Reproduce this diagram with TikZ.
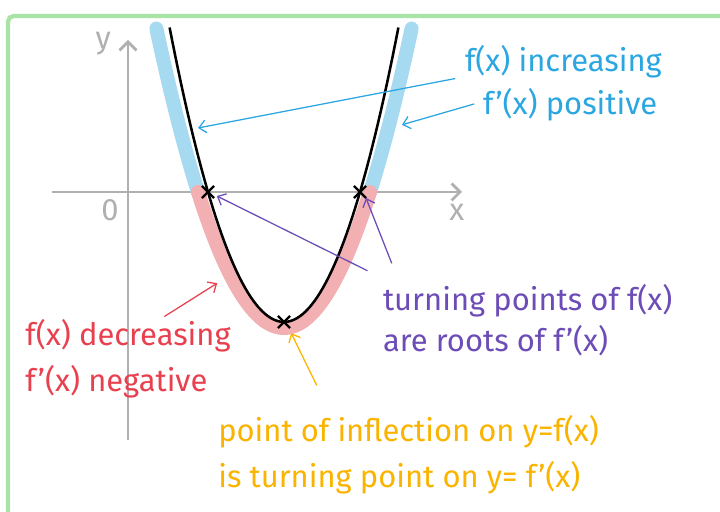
\documentclass[tikz,border=0pt]{standalone}
\usepackage{fontspec}
\setmainfont{Fira Sans}
\usetikzlibrary{arrows.meta, shapes.misc}

\definecolor{framegreen}{HTML}{A8E4A6}
\definecolor{axisgray}{HTML}{B0B0B0}
\definecolor{bandblue}{HTML}{A6DAF0}
\definecolor{bandpink}{HTML}{F2B0B2}
\definecolor{incblue}{HTML}{2BA6E1}
\definecolor{decred}{HTML}{E8404E}
\definecolor{tpurple}{HTML}{6C4CB6}
\definecolor{inforange}{HTML}{FAB400}

\begin{document}
\begin{tikzpicture}[
    lbl/.style={font=\fontsize{22}{26}\selectfont, anchor=west, inner sep=0pt},
    ptr/.style={-{Straight Barb[length=5pt, width=9pt]}, line width=0.9pt, shorten <=2pt},
    crossmark/.style={cross out, draw=black, line width=1.6pt, minimum size=7pt, inner sep=0pt}
]
    \useasboundingbox (-3.2, -8.0) rectangle (14.8, 4.8);

    % frame
    \draw[framegreen, line width=3pt, rounded corners=4pt] (-3.0, -8.3) -- (-3.0, 4.4) -- (15.0, 4.4);

    % axes
    \draw[axisgray, line width=2pt, -{Straight Barb[length=6pt, width=12pt]}] (-1.9, 0) -- (8.35, 0);
    \draw[axisgray, line width=2pt, -{Straight Barb[length=6pt, width=12pt]}] (0, -6.2) -- (0, 3.8);
    \node[axisgray, font=\fontsize{22}{22}\selectfont] (ylbl) at (-0.62, 3.72) {y};
    \node[axisgray, font=\fontsize{22}{22}\selectfont] (olbl) at (-0.45, -0.45) {0};
    \node[axisgray, font=\fontsize{22}{22}\selectfont] (xlbl) at (8.22, -0.5) {x};

    % coloured bands outside the curve
    \draw[bandblue, line width=10pt, line cap=round, domain=0.71:1.75, samples=30] plot (\x, {0.7355*(\x-1.75)*(\x-6.05)});
    \draw[bandblue, line width=10pt, line cap=round, domain=6.05:7.09, samples=30] plot (\x, {0.7355*(\x-1.75)*(\x-6.05)});
    \draw[bandpink, line width=10pt, line cap=round, domain=1.75:6.05, samples=60] plot (\x, {0.7355*(\x-1.75)*(\x-6.05)});

    % y = f(x)
    \draw[black, line width=1.8pt, domain=1.04:6.76, samples=80] plot (\x, {0.9*(\x-2)*(\x-5.8)});

    % turning points and inflection
    \node[crossmark] (rootA) at (2, 0) {};
    \node[crossmark] (rootB) at (5.8, 0) {};
    \node[crossmark] (vert) at (3.9, -3.249) {};

    % f(x) increasing
    \node[lbl, incblue] (inc) at (8.42, 3.25) {f(x) increasing};
    \node[lbl, incblue] (pos) at (8.87, 2.17) {f'(x) positive};
    \coordinate (upL) at (1.75, 1.6);
    \coordinate (upR) at (6.85, 1.68);
    \draw[ptr, incblue] (8.25, 2.85) -- (upL);
    \draw[ptr, incblue] (pos.west) ++(-0.15, 0.05) -- (upR);

    % f(x) decreasing
    \node[lbl, decred] (dec) at (-2.57, -3.6) {f(x) decreasing};
    \node[lbl, decred] (neg) at (-2.57, -4.75) {f'(x) negative};
    \coordinate (downL) at (2.23, -2.28);
    \draw[ptr, decred] (0.85, -3.15) -- (downL);

    % turning points
    \node[lbl, tpurple] (turn) at (6.37, -2.72) {turning points of f(x)};
    \node[lbl, tpurple] (roots) at (6.37, -3.72) {are roots of f'(x)};
    \draw[ptr, tpurple] (6.05, -2.0) -- ([shift={(0.22,-0.1)}]rootA.center);
    \draw[ptr, tpurple] (6.62, -1.85) -- ([shift={(0.15,-0.15)}]rootB.center);

    % inflection
    \node[lbl, inforange] (infl) at (2.25, -6.0) {point of inflection on y=f(x)};
    \node[lbl, inforange] (tpt) at (2.25, -7.15) {is turning point on y= f'(x)};
    \draw[ptr, inforange] (4.75, -4.9) -- ([shift={(0.18,-0.28)}]vert.center);
\end{tikzpicture}
\end{document}
